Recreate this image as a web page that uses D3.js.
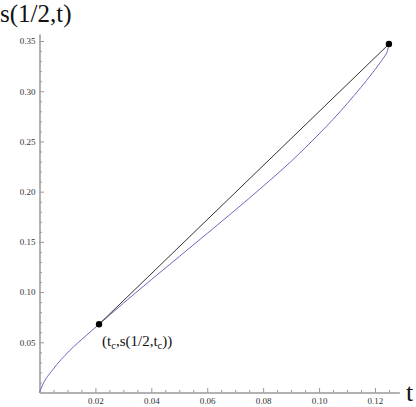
<!DOCTYPE html>
<html>
<head>
<meta charset="utf-8">
<script src="https://cdn.jsdelivr.net/npm/d3@7"></script>
<style>
  body { margin: 0; background: #fff; }
  svg { display: block; }
  svg text { font-family: "Liberation Serif", Tinos, Times, "Times New Roman", "DejaVu Serif", serif; }
</style>
</head>
<body>
<div id="chart"></div>
<script>
// curve s(1/2,t)
var tValues = [0, 0.0011, 0.0047, 0.0107, 0.0166, 0.0213, 0.03, 0.04, 0.05, 0.06, 0.07, 0.08, 0.09, 0.1, 0.105, 0.11, 0.115, 0.117, 0.12, 0.122, 0.1235, 0.1245, 0.125];
var sValues = [0, 0.0075, 0.0225, 0.0415, 0.0565, 0.068, 0.0889, 0.1124, 0.1354, 0.1584, 0.1816, 0.2054, 0.2301, 0.2575, 0.272, 0.2875, 0.304, 0.3108, 0.3215, 0.329, 0.335, 0.3405, 0.347];

// the two marked points (t_c and end point), joined by the black segment
var dotT = [0.0213, 0.125];
var dotS = [0.068, 0.347];

var xMajor = [0.02, 0.04, 0.06, 0.08, 0.10, 0.12];
var yMajor = [0.05, 0.10, 0.15, 0.20, 0.25, 0.30, 0.35];

var width = 416, height = 407;

var svg = d3.select("#chart").append("svg")
  .attr("width", width)
  .attr("height", height);

var x = d3.scaleLinear().domain([0, 0.1287]).range([39.5, 399.3]);
var y = d3.scaleLinear().domain([0, 0.357]).range([392.5, 34]);

// minor ticks every 0.005 on t, 0.01 on s
var xMinor = d3.range(0.005, 0.128, 0.005).filter(function (v) {
  return Math.abs(v / 0.02 - Math.round(v / 0.02)) > 1e-6;
});
var yMinor = d3.range(0.01, 0.356, 0.01).filter(function (v) {
  return Math.abs(v / 0.05 - Math.round(v / 0.05)) > 1e-6;
});

var axisColor = "#999";

var gx = svg.append("g").attr("transform", "translate(0," + y(0) + ")");
gx.call(d3.axisBottom(x).tickValues(xMinor).tickSize(-2.5).tickSizeOuter(0).tickFormat(""));
gx.append("g").call(d3.axisBottom(x).tickValues(xMajor).tickSize(-4.5).tickSizeOuter(0)
  .tickPadding(5).tickFormat(d3.format(".2f")));

var gy = svg.append("g").attr("transform", "translate(" + x(0) + ",0)");
gy.call(d3.axisLeft(y).tickValues(yMinor).tickSize(-2.5).tickSizeOuter(0).tickFormat(""));
gy.append("g").call(d3.axisLeft(y).tickValues(yMajor).tickSize(-4.5).tickSizeOuter(0)
  .tickPadding(4).tickFormat(d3.format(".2f")));

svg.selectAll("g").attr("font-family", null);
svg.selectAll(".domain").attr("stroke", axisColor).attr("stroke-width", 1);
svg.selectAll(".tick line").attr("stroke", axisColor);
svg.selectAll(".tick text").attr("font-size", 9).attr("fill", "#333");

// blue curve
var curve = tValues.map(function (t, i) { return [t, sValues[i]]; });
var line = d3.line()
  .x(function (d) { return x(d[0]); })
  .y(function (d) { return y(d[1]); })
  .curve(d3.curveMonotoneX);

svg.append("path")
  .datum(curve)
  .attr("fill", "none")
  .attr("stroke", "#6a6ac2")
  .attr("stroke-width", 1)
  .attr("d", line);

// black segment
var seg = dotT.map(function (t, i) { return [t, dotS[i]]; });
svg.append("path")
  .datum(seg)
  .attr("fill", "none")
  .attr("stroke", "#333")
  .attr("stroke-width", 1)
  .attr("d", d3.line().x(function (d) { return x(d[0]); }).y(function (d) { return y(d[1]); }));

svg.selectAll("circle.pt")
  .data(seg)
  .enter()
  .append("circle")
  .attr("class", "pt")
  .attr("cx", function (d) { return x(d[0]); })
  .attr("cy", function (d) { return y(d[1]); })
  .attr("r", 3.2)
  .attr("fill", "#000");

// axis labels
svg.append("text")
  .attr("x", 0)
  .attr("y", 22)
  .attr("font-size", 25)
  .attr("fill", "#111")
  .text("s(1/2,t)");

svg.append("text")
  .attr("x", 406)
  .attr("y", 401)
  .attr("font-size", 26)
  .attr("fill", "#111")
  .text("t");

// point label (t_c, s(1/2,t_c))
var lab = svg.append("text")
  .attr("x", x(dotT[0]) + 3)
  .attr("y", y(dotS[0]) + 22)
  .attr("font-size", 15)
  .attr("fill", "#111");
lab.append("tspan").text("(t");
lab.append("tspan").attr("font-size", 10.5).attr("dy", 3).text("c");
lab.append("tspan").attr("dy", -3).text(",s(1/2,t");
lab.append("tspan").attr("font-size", 10.5).attr("dy", 3).text("c");
lab.append("tspan").attr("dy", -3).text("))");
</script>
</body>
</html>
